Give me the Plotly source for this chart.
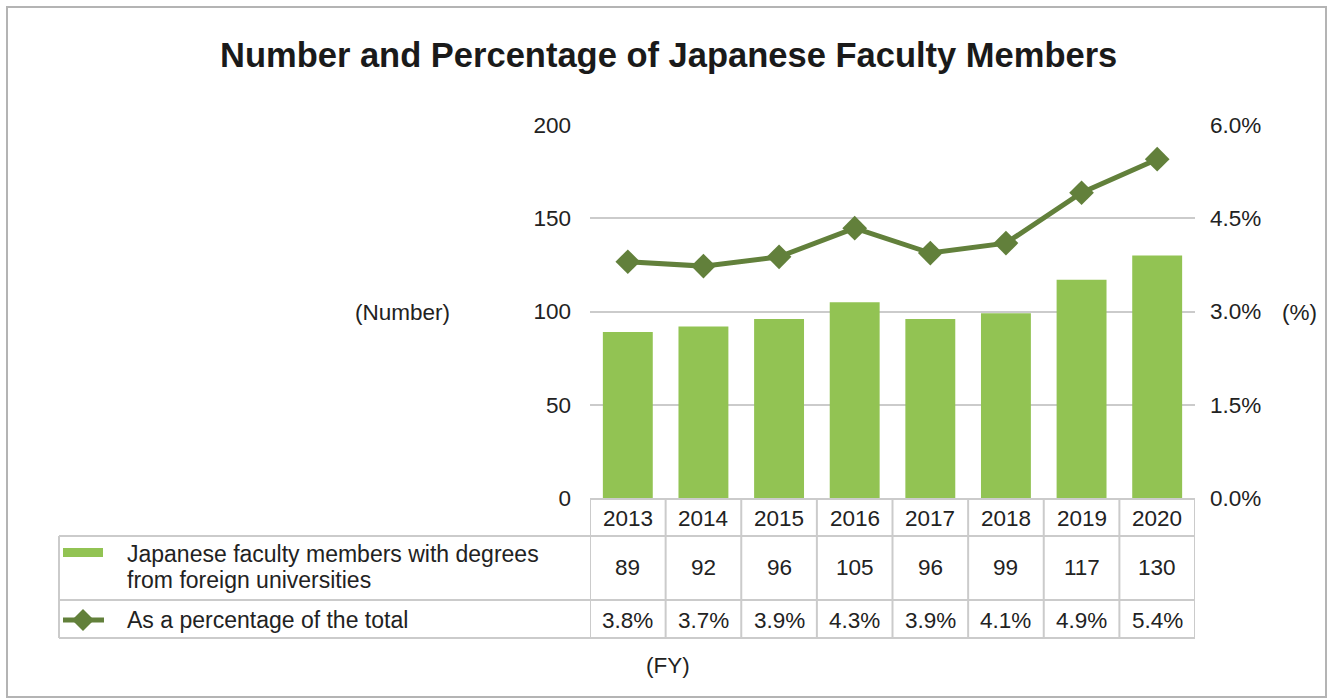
import plotly.graph_objects as go

years = ["2013", "2014", "2015", "2016", "2017", "2018", "2019", "2020"]
faculty_counts = [89, 92, 96, 105, 96, 99, 117, 130]
pct_values = [3.80, 3.73, 3.88, 4.34, 3.94, 4.10, 4.91, 5.45]
pct_labels = ["3.8%", "3.7%", "3.9%", "4.3%", "3.9%", "4.1%", "4.9%", "5.4%"]
bar_label_lines = ["Japanese faculty members with degrees", "from foreign universities"]
line_label = "As a percentage of the total"

W, H = 1327, 698
L, R, T, B = 590, 1195, 125, 498  # plot area in pixels
pw, ph = R - L, B - T

def px(x):
    return (x - L) / pw

def py(y):
    return (B - y) / ph

BAR_C = "#92c353"
LINE_C = "#62803b"
GRID_C = "#cbcbcb"
TXT_C = "#222222"
FONT = "Liberation Sans, Arial, sans-serif"

xs = list(range(len(years)))

fig = go.Figure()
fig.add_trace(go.Bar(x=xs, y=faculty_counts, marker=dict(color=BAR_C, line=dict(width=0)),
                     width=0.66, hoverinfo="skip", showlegend=False))
fig.add_trace(go.Scatter(x=xs, y=[v / 100 for v in pct_values], yaxis="y2", mode="lines+markers",
                         line=dict(color=LINE_C, width=5),
                         marker=dict(symbol="diamond", size=19, color=LINE_C),
                         hoverinfo="skip", showlegend=False))

shapes = []
line_style = dict(color=GRID_C, width=2)
# outer border
shapes.append(dict(type="rect", xref="paper", yref="paper", x0=px(7), x1=px(1326), y0=py(7), y1=py(697),
                   line=dict(color="#b4b4b4", width=2), layer="below"))
# horizontal table lines
shapes.append(dict(type="line", xref="x", yref="paper", x0=-0.5, x1=len(years) - 0.5, y0=py(499), y1=py(499), line=line_style))
for yy in (536, 600, 638):
    shapes.append(dict(type="line", xref="paper", yref="paper", x0=px(59), x1=1, y0=py(yy), y1=py(yy), line=line_style))
# vertical table lines
shapes.append(dict(type="line", xref="paper", yref="paper", x0=px(59), x1=px(59), y0=py(536), y1=py(638), line=line_style))
for i in range(len(years) + 1):
    shapes.append(dict(type="line", xref="x", yref="paper", x0=i - 0.5, x1=i - 0.5, y0=py(499), y1=py(638), line=line_style))
# legend symbols
shapes.append(dict(type="rect", xref="paper", yref="paper", x0=px(63), x1=px(103), y0=py(548), y1=py(557),
                   fillcolor=BAR_C, line=dict(width=0)))
shapes.append(dict(type="line", xref="paper", yref="paper", x0=px(63), x1=px(104), y0=py(620), y1=py(620),
                   line=dict(color=LINE_C, width=5)))
shapes.append(dict(type="path", xref="paper", yref="paper",
                   path=f"M {px(72)},{py(620)} L {px(83)},{py(609)} L {px(94)},{py(620)} L {px(83)},{py(631)} Z",
                   fillcolor=LINE_C, line=dict(width=0)))

ann = []
tf = dict(family=FONT, size=22.5, color=TXT_C)
lf = dict(family=FONT, size=23, color=TXT_C)

def a(x, y, text, xref="paper", xanchor="center", font=tf, align="center"):
    ann.append(dict(x=x, y=y, xref=xref, yref="paper", text=text, showarrow=False,
                    xanchor=xanchor, yanchor="middle", align=align, font=font))

for i, yr in enumerate(years):
    a(i, py(518), yr, xref="x")
    a(i, py(567), str(faculty_counts[i]), xref="x")
    a(i, py(620), pct_labels[i], xref="x")
a(px(125), py(554), bar_label_lines[0], xanchor="left", font=lf, align="left")
a(px(125), py(580), bar_label_lines[1], xanchor="left", font=lf, align="left")
a(px(125), py(620), line_label, xanchor="left", font=lf)
a(px(452), py(312), "(Number)", xanchor="right")
a(px(1280), py(312), "(%)", xanchor="left")
a(px(668), py(665), "(FY)")
a(px(668), py(55), "<b>Number and Percentage of Japanese Faculty Members</b>",
  font=dict(family=FONT, size=34.5, color="#1a1a1a"))

fig.update_layout(
    width=W, height=H,
    margin=dict(l=L, r=W - R, t=T, b=H - B, pad=0),
    paper_bgcolor="white", plot_bgcolor="white",
    xaxis=dict(range=[-0.5, len(years) - 0.5], showticklabels=False, showgrid=False, zeroline=False,
               showline=False, ticks="", fixedrange=True),
    yaxis=dict(range=[0, 200], dtick=50, showgrid=True, gridcolor=GRID_C, gridwidth=2, zeroline=False,
               showline=False, ticks="", tickfont=tf, ticklabelstandoff=18),
    yaxis2=dict(range=[0, 0.06], dtick=0.015, tickformat=".1%", overlaying="y", side="right",
                showgrid=False, zeroline=False, showline=False, ticks="", tickfont=tf, ticklabelstandoff=14),
    shapes=shapes, annotations=ann, font=tf,
)

fig.write_html("out.html", config={"displayModeBar": False},
               post_script="document.body.style.margin='0';document.body.style.overflow='hidden';")
